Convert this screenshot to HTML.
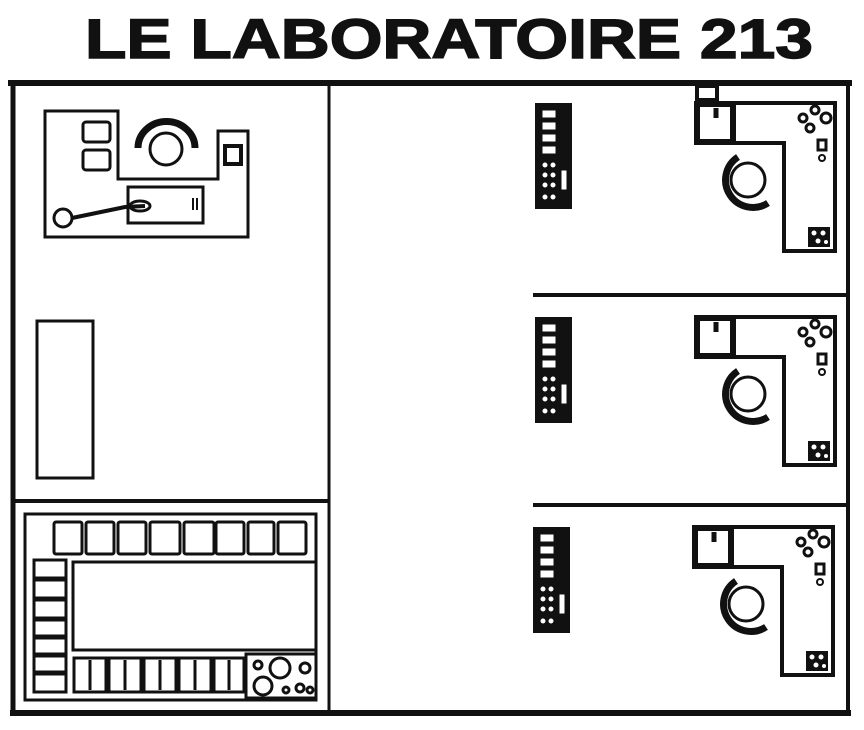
<!DOCTYPE html>
<html><head><style>html,body{margin:0;padding:0;background:#fff;}svg{display:block}</style></head>
<body>
<svg width="864" height="730" viewBox="0 0 864 730" xmlns="http://www.w3.org/2000/svg">
<text x="449" y="58" text-anchor="middle" font-family="Liberation Sans, sans-serif" font-weight="bold" font-size="56" textLength="728" lengthAdjust="spacingAndGlyphs" fill="#111" stroke="#111" stroke-width="1.5">LE LABORATOIRE 213</text>
<g fill="none" stroke="#111">
<line x1="8" y1="83" x2="852" y2="83" stroke-width="6"/>
<line x1="13" y1="82" x2="13" y2="716" stroke-width="5"/>
<line x1="10" y1="713" x2="851" y2="713" stroke-width="6"/>
<line x1="848" y1="82" x2="848" y2="716" stroke-width="4"/>
<line x1="329" y1="85" x2="329" y2="712" stroke-width="3"/>
<line x1="13" y1="501" x2="329" y2="501" stroke-width="4"/>
<line x1="533" y1="295" x2="848" y2="295" stroke-width="4"/>
<line x1="533" y1="505" x2="848" y2="505" stroke-width="4"/>
<path d="M45 111 H118 V179 H218 V131 H248 V237 H45 Z" stroke-width="3"/>
<rect x="83" y="122" width="27" height="20" rx="3" stroke-width="3"/>
<rect x="83" y="150" width="27" height="20" rx="3" stroke-width="3"/>
<circle cx="166" cy="149" r="16" stroke-width="3"/>
<path d="M138 148 A28 26 0 0 1 195 148" stroke-width="7"/>
<rect x="225" y="146" width="16" height="18" stroke-width="4"/>
<rect x="128" y="187" width="75" height="36" stroke-width="3"/>
<line x1="193" y1="198" x2="193" y2="210" stroke-width="2"/>
<line x1="197" y1="198" x2="197" y2="210" stroke-width="2"/>
<circle cx="63" cy="218" r="9" stroke-width="3"/>
<path d="M72 218 L125 207 L145 206" stroke-width="4"/>
<ellipse cx="140" cy="206" rx="10" ry="5" stroke-width="3"/>
<rect x="37" y="321" width="56" height="157" stroke-width="3"/>
<rect x="25" y="514" width="291" height="186" stroke-width="3"/>
<rect x="73" y="562" width="243" height="88" stroke-width="3"/>
<g stroke-width="3">
<rect x="54" y="522" width="28" height="32" rx="2"/>
<rect x="86" y="522" width="28" height="32" rx="2"/>
<rect x="118" y="522" width="28" height="32" rx="2"/>
<rect x="150" y="522" width="30" height="32" rx="2"/>
<rect x="184" y="522" width="30" height="32" rx="2"/>
<rect x="216" y="522" width="28" height="32" rx="2"/>
<rect x="248" y="522" width="26" height="32" rx="2"/>
<rect x="278" y="522" width="28" height="32" rx="2"/>
<rect x="34" y="560" width="32" height="18"/>
<rect x="34" y="580" width="32" height="18"/>
<rect x="34" y="600" width="32" height="18"/>
<rect x="34" y="620" width="32" height="16"/>
<rect x="34" y="638" width="32" height="16"/>
<rect x="34" y="656" width="32" height="16"/>
<rect x="34" y="674" width="32" height="18"/>
<rect x="74" y="658" width="32" height="34"/>
<rect x="109" y="658" width="32" height="34"/>
<rect x="144" y="658" width="32" height="34"/>
<rect x="179" y="658" width="32" height="34"/>
<rect x="214" y="658" width="30" height="34"/>
<line x1="90" y1="660" x2="90" y2="690"/><line x1="125" y1="660" x2="125" y2="690"/><line x1="160" y1="660" x2="160" y2="690"/><line x1="195" y1="660" x2="195" y2="690"/><line x1="229" y1="660" x2="229" y2="690"/>
<rect x="246" y="654" width="70" height="44"/>
<circle cx="280" cy="668" r="10"/><circle cx="263" cy="686" r="9"/><circle cx="258" cy="665" r="4"/><circle cx="300" cy="688" r="4"/><circle cx="305" cy="668" r="5"/><circle cx="286" cy="690" r="3"/><circle cx="310" cy="690" r="3"/>
</g>
</g>
<defs>
<g id="room" fill="none" stroke="#111">
<rect x="535" y="103" width="37" height="106" fill="#111" stroke="none"/>
<g fill="#fff">
<rect x="542" y="110" width="14" height="8"/><rect x="542" y="122" width="14" height="8"/><rect x="542" y="134" width="14" height="8"/><rect x="542" y="146" width="14" height="8"/>
<circle cx="545" cy="165" r="3"/><circle cx="553" cy="165" r="3"/><circle cx="545" cy="175" r="3"/><circle cx="553" cy="175" r="3"/><circle cx="545" cy="185" r="3"/><circle cx="553" cy="185" r="3"/><circle cx="545" cy="197" r="3"/><circle cx="553" cy="197" r="3"/><rect x="561" y="170" width="6" height="20"/>
</g>
<path d="M696 103 H835 V251 H784 V143 H696 Z" stroke-width="4"/>
<rect x="697" y="104" width="36" height="38" stroke-width="6"/>
<line x1="716" y1="108" x2="716" y2="118" stroke-width="5"/>
<circle cx="748" cy="180" r="17" stroke-width="3"/>
<path d="M738 157 A26 26 0 0 0 768 203" stroke-width="7"/>
<rect x="808" y="227" width="22" height="20" fill="#111" stroke="none"/>
<g fill="#fff" stroke="none"><circle cx="814" cy="233" r="2.5"/><circle cx="823" cy="233" r="2.5"/><circle cx="818" cy="241" r="2.5"/><circle cx="826" cy="242" r="2"/></g>
<circle cx="803" cy="118" r="4" stroke-width="3"/><circle cx="815" cy="110" r="4" stroke-width="3"/><circle cx="810" cy="128" r="4" stroke-width="3"/><circle cx="826" cy="118" r="5" stroke-width="3"/>
<rect x="818" y="140" width="8" height="10" stroke-width="3"/><circle cx="822" cy="158" r="3" stroke-width="2"/>
</g>
</defs>
<use href="#room"/>
<use href="#room" transform="translate(0,214)"/>
<use href="#room" transform="translate(-2,424)"/>
<rect x="697" y="86" width="20" height="14" fill="none" stroke="#111" stroke-width="4"/>
</svg>
</body></html>
